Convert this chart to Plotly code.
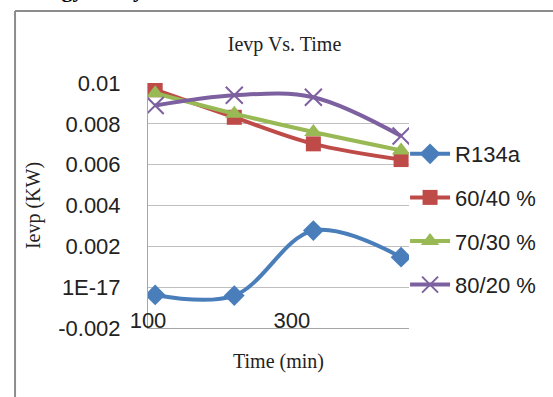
import plotly.graph_objects as go

# ---- data ----
time_min = [110, 220, 330, 452]
r134a = [-0.00038, -0.00041, 0.00277, 0.00147]
mix_60_40 = [0.00967, 0.00832, 0.00702, 0.00625]
mix_70_30 = [0.0095, 0.0085, 0.0076, 0.0067]
mix_80_20 = [0.0089, 0.0094, 0.0093, 0.0074]

series_names = ["R134a", "60/40 %", "70/30 %", "80/20 %"]
y_tickvals = [0.01, 0.008, 0.006, 0.004, 0.002, 0.0, -0.002]
y_ticktext = ["0.01", "0.008", "0.006", "0.004", "0.002", "1E-17", "-0.002"]
x_tickvals = [100, 300]
x_ticktext = ["100", "300"]

W, H = 553, 397
L, R, T, B = 148, 413, 83, 328


def px_x(p):
    return (p - L) / (R - L)


def px_y(p):
    return (B - p) / (B - T)


styles = [
    dict(color="#4A7EBB", symbol="diamond", size=16, lw=0),
    dict(color="#BE4B48", symbol="square", size=15, lw=0),
    dict(color="#98B954", symbol="triangle-up", size=16, lw=0),
    dict(color="#7D60A0", symbol="x-thin", size=17, lw=2),
]

fig = go.Figure()
for i, (name, ys) in enumerate(zip(series_names, [r134a, mix_60_40, mix_70_30, mix_80_20])):
    st = styles[i]
    marker = dict(color=st["color"], symbol=st["symbol"], size=st["size"])
    if st["lw"]:
        marker["line"] = dict(color=st["color"], width=st["lw"])
    fig.add_trace(go.Scatter(
        x=time_min, y=ys, name=name, mode="lines+markers",
        line=dict(color=st["color"], width=4, shape="spline", smoothing=1),
        marker=marker, legendgroup=name,
    ))

font_sans = "Liberation Sans, Arial, sans-serif"
font_serif = "Liberation Serif, Times New Roman, serif"

fig.update_layout(
    width=W, height=H,
    margin=dict(l=L, r=W - R, t=T, b=H - B),
    paper_bgcolor="white", plot_bgcolor="white",
    title=dict(text="Ievp Vs. Time", x=284.5 / W, xanchor="center",
               y=1 - 44 / H, yanchor="middle", xref="container", yref="container",
               font=dict(family=font_serif, size=20, color="#222")),
    showlegend=True,
    legend=dict(x=px_x(409), y=px_y(133), xanchor="left", yanchor="top",
                font=dict(family=font_sans, size=22, color="#222"),
                tracegroupgap=12, itemwidth=40, bgcolor="rgba(0,0,0,0)"),
    xaxis=dict(range=[100, 463], tickvals=x_tickvals, ticktext=x_ticktext,
               showgrid=False, zeroline=False, showline=True, linecolor="#A6A6A6",
               linewidth=1, ticks="", ticklabelstandoff=-27,
               tickfont=dict(family=font_sans, size=22, color="#222"),
               title=dict(text="Time (min)", font=dict(family=font_serif, size=20, color="#222"),
                          standoff=21)),
    yaxis=dict(range=[-0.002, 0.01], tickvals=y_tickvals, ticktext=y_ticktext,
               showgrid=True, gridcolor="#BFBFBF", gridwidth=1, zeroline=False,
               showline=True, linecolor="#A6A6A6", linewidth=1, ticks="",
               ticklabelstandoff=22,
               tickfont=dict(family=font_sans, size=22, color="#222"),
               title=dict(text="Ievp (KW)", font=dict(family=font_serif, size=20, color="#222"),
                          standoff=12)),
)

# outer chart frame (partially cropped)
frame_color = "#8C8C8C"
fig.add_shape(type="line", xref="paper", yref="paper",
              x0=px_x(13), x1=px_x(13), y0=px_y(11), y1=px_y(420),
              line=dict(color=frame_color, width=2))
fig.add_shape(type="line", xref="paper", yref="paper",
              x0=px_x(13), x1=px_x(580), y0=px_y(11), y1=px_y(11),
              line=dict(color=frame_color, width=2))

# cropped heading above the chart
fig.add_annotation(text="<b>Energy Analysis</b>", xref="paper", yref="paper",
                   x=px_x(11), y=px_y(4), xanchor="left", yanchor="bottom",
                   showarrow=False, font=dict(family=font_serif, size=22, color="#000"))

fig.write_html("out.html")
